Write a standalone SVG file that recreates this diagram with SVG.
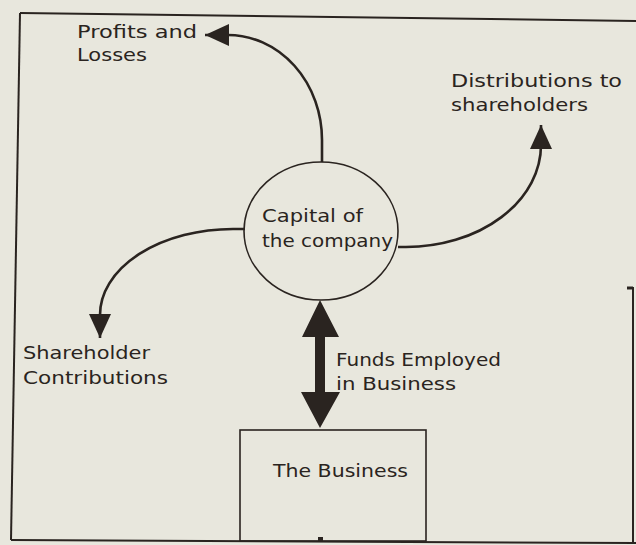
<svg xmlns="http://www.w3.org/2000/svg" width="636" height="545" viewBox="0 0 636 545">
  <style>
    .ink { stroke: #2a2420; fill: none; }
    .frame { stroke-width: 2; }
    .node { stroke-width: 1.6; }
    .flow { stroke-width: 2.6; }
    .label { font-family: "DejaVu Sans", "Liberation Sans", sans-serif; font-size: 17px; fill: #2a2420; }
  </style>
  <defs>
    <marker id="head" markerUnits="userSpaceOnUse" markerWidth="26" markerHeight="24"
            viewBox="0 0 26 24" refX="24" refY="12" orient="auto">
      <path d="M0,1 L24,12 L0,23 Z" fill="#2a2420"/>
    </marker>
  </defs>

  <!-- paper -->
  <rect x="0" y="0" width="636" height="545" fill="#e8e7dd"/>

  <!-- outer frame -->
  <g id="frame" class="ink frame">
    <path d="M20,13 L636,21"/>
    <path d="M20,13 L11,540"/>
    <path d="M11,540 L636,543"/>
    <path d="M633,287 L633,543"/>
    <path d="M627,288 L633,288" stroke-width="3"/>
  </g>

  <!-- connectors -->
  <g id="connectors">
    <path class="ink flow" d="M322,162 L322,140 A94,105 0 0 0 228,35 L205,35" marker-end="url(#head)"/>
    <path class="ink flow" d="M398,247 L406,247 A135,102 0 0 0 541,145 L541,125" marker-end="url(#head)"/>
    <path class="ink flow" d="M245,229 L233,229 A133,86 0 0 0 100,315 L100,338" marker-end="url(#head)"/>
    <!-- two-way funds arrow -->
    <polygon fill="#2a2420" points="320,300 339,337 325,337 325,392 340,392 320,428 301,392 315,392 315,337 302,337"/>
  </g>

  <!-- central capital node -->
  <g id="capital">
    <ellipse class="ink node" cx="321" cy="231" rx="77" ry="69"/>
    <text class="label" x="262" y="222" textLength="101" lengthAdjust="spacingAndGlyphs">Capital of</text>
    <text class="label" x="262" y="247" textLength="131" lengthAdjust="spacingAndGlyphs">the company</text>
  </g>

  <g id="profits">
    <text class="label" x="77" y="38" textLength="120" lengthAdjust="spacingAndGlyphs">Profits and</text>
    <text class="label" x="77" y="61" textLength="70" lengthAdjust="spacingAndGlyphs">Losses</text>
  </g>

  <g id="distributions">
    <text class="label" x="451" y="87" textLength="171" lengthAdjust="spacingAndGlyphs">Distributions to</text>
    <text class="label" x="451" y="111" textLength="137" lengthAdjust="spacingAndGlyphs">shareholders</text>
  </g>

  <g id="contributions">
    <text class="label" x="23" y="359" textLength="127" lengthAdjust="spacingAndGlyphs">Shareholder</text>
    <text class="label" x="23" y="384" textLength="145" lengthAdjust="spacingAndGlyphs">Contributions</text>
  </g>

  <g id="funds">
    <text class="label" x="336" y="366" textLength="165" lengthAdjust="spacingAndGlyphs">Funds Employed</text>
    <text class="label" x="336" y="390" textLength="120" lengthAdjust="spacingAndGlyphs">in Business</text>
  </g>

  <g id="business">
    <rect class="ink node" x="240" y="430" width="186" height="111"/>
    <text class="label" x="273" y="477" textLength="135" lengthAdjust="spacingAndGlyphs">The Business</text>
    <rect x="318" y="537" width="5" height="4" fill="#2a2420"/>
  </g>
</svg>
